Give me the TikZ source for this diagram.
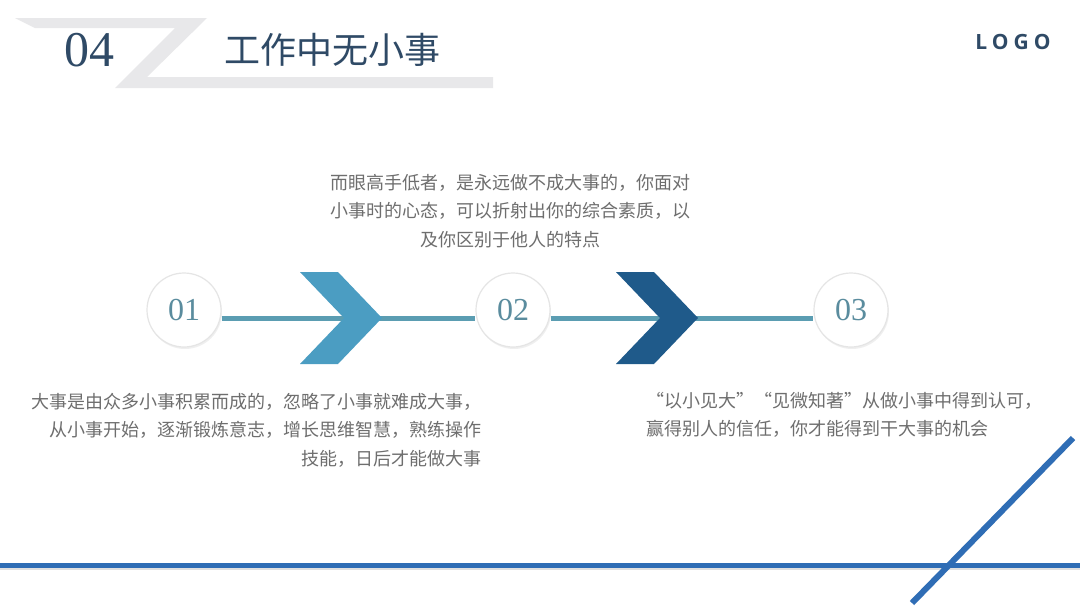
\documentclass[tikz,border=0pt]{standalone}
\usepackage{fontspec}
\setmainfont{Liberation Serif}
\newfontfamily\cjk{Noto Sans CJK SC}
\newfontfamily\logofont[LetterSpace=24]{Open Sans}
\usetikzlibrary{positioning,shadows}

\definecolor{titleblue}{HTML}{2F4A66}
\definecolor{numteal}{HTML}{5A8C9E}
\definecolor{linkteal}{HTML}{5B9DB2}
\definecolor{chevlight}{HTML}{4B9DC2}
\definecolor{chevdark}{HTML}{1F5A8A}
\definecolor{textgray}{HTML}{6E6E6E}
\definecolor{barblue}{HTML}{2F6DB5}
\definecolor{zgray}{HTML}{E8E8EA}

\begin{document}
\begin{tikzpicture}[x=1pt,y=-1pt,
  stepcircle/.style={circle,draw=gray!20,line width=1.2pt,fill=white,minimum size=74pt,inner sep=0pt,
    text=numteal,font=\fontsize{32}{32}\selectfont,
    drop shadow={opacity=0.12,shadow xshift=1pt,shadow yshift=-2pt}},
  link/.style={line width=5pt,draw=linkteal},
  desc/.style={text=textgray,font=\cjk\fontsize{18}{28.5}\selectfont,inner sep=0pt}]

% Background
\fill[white] (0,0) rectangle (1080,608);
\useasboundingbox (0,0) rectangle (1080,608);

% Header
\fill[zgray] (15,18) -- (207,18) -- (147,77) -- (493,77) -- (493,88) -- (115,88) -- (175,28) -- (35,28) -- cycle;
\node[text=titleblue,font=\fontsize{50}{50}\selectfont] (num) at (89,50) {04};
\node[text=titleblue,font=\cjk\fontsize{36}{36}\selectfont] (title) at (332,50) {工作中无小事};
\node[text=titleblue,font=\logofont\bfseries\fontsize{21}{21}\selectfont] (logo) at (1013,42) {LOGO};

% Steps
\node[stepcircle] (c1) at (184,310) {01};
\node[stepcircle] (c2) at (513,310) {02};
\node[stepcircle] (c3) at (851,310) {03};

% Links
\draw[link] ([yshift=-8pt]c1.east) -- ([yshift=-8pt]c2.west);
\draw[link] ([yshift=-8pt]c2.east) -- ([yshift=-8pt]c3.west);

% Chevrons
\coordinate (chev1) at (300,272);
\coordinate (chev2) at (616,272);
\fill[chevlight] (chev1) -- ++(38,0) -- ++(44,46) -- ++(-44,46) -- ++(-38,0) -- ++(44,-46) -- cycle;
\fill[chevdark] (chev2) -- ++(38,0) -- ++(44,46) -- ++(-44,46) -- ++(-38,0) -- ++(44,-46) -- cycle;

% Texts
\node[desc,align=center] (top) at (510,211) {而眼高手低者，是永远做不成大事的，你面对\\小事时的心态，可以折射出你的综合素质，以\\及你区别于他人的特点};
\node[desc,align=right,anchor=east] (left) at (482,430) {大事是由众多小事积累而成的，忽略了小事就难成大事，\\从小事开始，逐渐锻炼意志，增长思维智慧，熟练操作\\技能，日后才能做大事};
\node[desc,align=left,anchor=west] (right) at (646,415) {“以小见大”“见微知著”从做小事中得到认可，\\赢得别人的信任，你才能得到干大事的机会};

% Bottom bars
\draw[line width=4pt,black,opacity=0.12] (0,568) -- (1080,568);
\draw[line width=5pt,barblue] (0,565) -- (1080,565);
\draw[line width=6pt,barblue] (1073,438) -- (912,603);

\end{tikzpicture}
\end{document}
